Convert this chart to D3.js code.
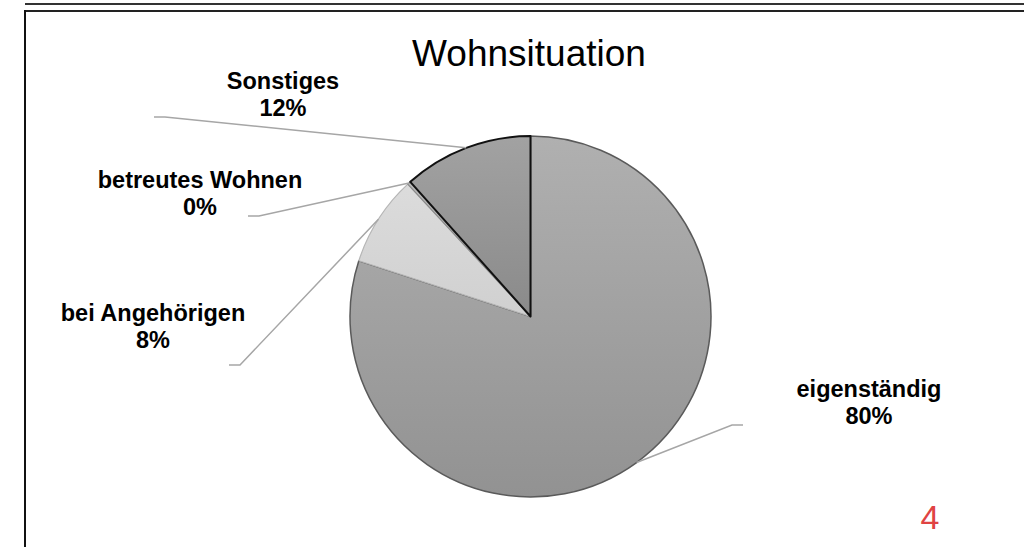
<!DOCTYPE html>
<html>
<head>
<meta charset="utf-8">
<script src="https://cdn.jsdelivr.net/npm/d3@7"></script>
<style>
html,body{margin:0;padding:0;background:#fff;}
svg{display:block;}
</style>
</head>
<body>
<svg id="chart" width="1024" height="547"></svg>
<script>
const title = "Wohnsituation";
const categories = ["eigenständig", "bei Angehörigen", "betreutes Wohnen", "Sonstiges"];
const values = [80.0, 8.1, 0.3, 11.6];
const pageNumber = "4";

const W = 1024, H = 547;
const cx = 530.5, cy = 316.5, r = 180.5;
const svg = d3.select("#chart");

// frame lines
svg.append("line").attr("x1", 25).attr("x2", W).attr("y1", 4).attr("y2", 4)
  .attr("stroke", "#333").attr("stroke-width", 2.2);
svg.append("line").attr("x1", 25).attr("x2", W).attr("y1", 11).attr("y2", 11)
  .attr("stroke", "#222").attr("stroke-width", 2.2);
svg.append("line").attr("x1", 25).attr("x2", 25).attr("y1", 10).attr("y2", H)
  .attr("stroke", "#111").attr("stroke-width", 2);

// title
svg.append("text").attr("x", 529).attr("y", 66).attr("text-anchor", "middle")
  .attr("font-family", "Liberation Sans, Arial, sans-serif").attr("font-size", 37)
  .attr("fill", "#000").text(title);

// gradients
const styles = [
  {top: "#b0b0b0", bot: "#929292", stroke: "#5a5a5a", sw: 1.5},
  {top: "#e0e0e0", bot: "#c0c0c0", stroke: "#b5b5b5", sw: 1.2},
  {top: "#bdbdbd", bot: "#9a9a9a", stroke: "#8a8a8a", sw: 1.2},
  {top: "#a2a2a2", bot: "#727272", stroke: "#111", sw: 2}
];
const defs = svg.append("defs");
styles.forEach((s, i) => {
  const gr = defs.append("linearGradient").attr("id", "g" + i)
    .attr("gradientUnits", "userSpaceOnUse")
    .attr("x1", 0).attr("x2", 0).attr("y1", -r).attr("y2", r);
  gr.append("stop").attr("offset", "0%").attr("stop-color", s.top);
  gr.append("stop").attr("offset", "100%").attr("stop-color", s.bot);
});

const pie = d3.pie().sort(null).value(d => d)(values);
const arc = d3.arc().innerRadius(0).outerRadius(r);
const total = d3.sum(values);

const g = svg.append("g").attr("transform", `translate(${cx},${cy})`);
g.selectAll("path").data(pie).join("path")
  .attr("d", arc)
  .attr("fill", (d, i) => `url(#g${i})`)
  .attr("stroke", (d, i) => styles[i].stroke)
  .attr("stroke-width", (d, i) => styles[i].sw)
  .attr("stroke-linejoin", "round");

// labels
const labelPos = [
  {x: 869, y: 397, lx: 743, ly: 425, side: "right"},
  {x: 153, y: 321, lx: 229, ly: 365, side: "left"},
  {x: 200, y: 188, lx: 248, ly: 216, side: "left"},
  {x: 283, y: 89, lx: 154, ly: 117, side: "left"}
];
pie.forEach((d, i) => {
  const p = labelPos[i];
  const a = (d.startAngle + d.endAngle) / 2;
  const ex = cx + r * Math.sin(a), ey = cy - r * Math.cos(a);
  const kx = p.side === "right" ? p.lx - 11 : p.lx + 11;
  svg.append("polyline")
    .attr("points", `${p.lx},${p.ly} ${kx},${p.ly} ${ex},${ey}`)
    .attr("fill", "none").attr("stroke", "#a6a6a6").attr("stroke-width", 1.5);
  const t = svg.append("text").attr("text-anchor", "middle")
    .attr("font-family", "Liberation Sans, Arial, sans-serif")
    .attr("font-weight", "bold").attr("font-size", 23.5).attr("fill", "#000");
  t.append("tspan").attr("x", p.x).attr("y", p.y).text(categories[i]);
  t.append("tspan").attr("x", p.x).attr("y", p.y + 27)
    .text(Math.round(values[i] / total * 100) + "%");
});

// page number
svg.append("text").attr("x", 930).attr("y", 529).attr("text-anchor", "middle")
  .attr("font-family", "Liberation Sans Narrow, Liberation Sans, Arial, sans-serif")
  .attr("font-size", 34).attr("fill", "#e04343").text(pageNumber);
</script>
</body>
</html>
